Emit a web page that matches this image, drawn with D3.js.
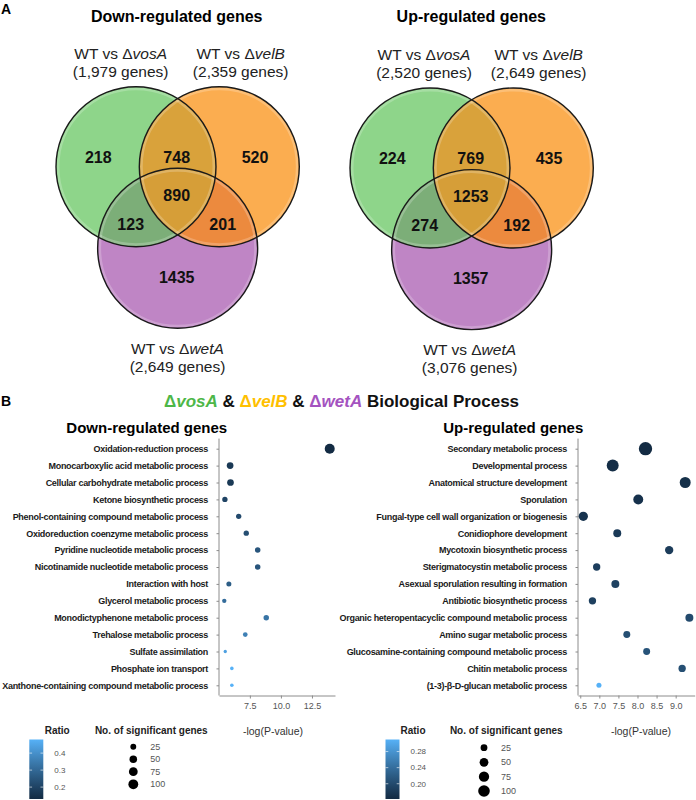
<!DOCTYPE html>
<html><head><meta charset="utf-8">
<script src="https://cdn.jsdelivr.net/npm/d3@7"></script>
<style>
body{margin:0;background:#fff}
svg{display:block}
text{font-family:"Liberation Sans",Arial,sans-serif}
</style>
</head><body>
<svg id="c" width="696" height="800"></svg>
<script>
// ---------- DATA ----------
const vennGenes = ["vosA", "velB", "wetA"];
const downVennTotals = ["1,979", "2,359", "2,649"];
const upVennTotals = ["2,520", "2,649", "3,076"];
// region order: A only, A∩B, B only, A∩B∩C, A∩C, B∩C, C only
const vennRegions = ["A", "AB", "B", "ABC", "AC", "BC", "C"];
const downVennCounts = [218, 748, 520, 890, 123, 201, 1435];
const upVennCounts = [224, 769, 435, 1253, 274, 192, 1357];

const downTerms = [
  "Oxidation-reduction process",
  "Monocarboxylic acid metabolic process",
  "Cellular carbohydrate metabolic process",
  "Ketone biosynthetic process",
  "Phenol-containing compound metabolic process",
  "Oxidoreduction coenzyme metabolic process",
  "Pyridine nucleotide metabolic process",
  "Nicotinamide nucleotide metabolic process",
  "Interaction with host",
  "Glycerol metabolic process",
  "Monodictyphenone metabolic process",
  "Trehalose metabolic process",
  "Sulfate assimilation",
  "Phosphate ion transport",
  "Xanthone-containing compound metabolic process"
];
const downLogP = [13.93, 5.91, 5.94, 5.49, 6.60, 7.21, 8.13, 8.13, 5.81, 5.44, 8.82, 7.13, 5.52, 6.05, 6.05];
const downCount = [105, 36, 36, 18, 18, 18, 20, 20, 15, 9, 20, 12, 3, 4, 4];
const downRatio = [0.13, 0.17, 0.17, 0.20, 0.22, 0.23, 0.25, 0.25, 0.27, 0.31, 0.33, 0.36, 0.44, 0.48, 0.48];
const downTicks = [7.5, 10.0, 12.5];
const downRatioTicks = [0.2, 0.3, 0.4];

const upTerms = [
  "Secondary metabolic process",
  "Developmental process",
  "Anatomical structure development",
  "Sporulation",
  "Fungal-type cell wall organization or biogenesis",
  "Conidiophore development",
  "Mycotoxin biosynthetic process",
  "Sterigmatocystin metabolic process",
  "Asexual sporulation resulting in formation",
  "Antibiotic biosynthetic process",
  "Organic heteropentacyclic compound metabolic process",
  "Amino sugar metabolic process",
  "Glucosamine-containing compound metabolic process",
  "Chitin metabolic process",
  "(1-3)-β-D-glucan metabolic process"
];
const upLogP = [8.21, 7.35, 9.25, 8.02, 6.58, 7.47, 8.83, 6.93, 7.42, 6.82, 9.36, 7.72, 8.24, 9.17, 6.99];
const upCount = [140, 108, 88, 69, 58, 39, 44, 31, 39, 31, 39, 27, 27, 31, 10];
const upRatio = [0.162, 0.165, 0.168, 0.170, 0.172, 0.180, 0.183, 0.186, 0.190, 0.188, 0.200, 0.205, 0.210, 0.205, 0.310];
const upTicks = [6.5, 7.0, 7.5, 8.0, 8.5, 9.0];
const upRatioTicks = [0.20, 0.24, 0.28];

const sizeLegendValues = [25, 50, 75, 100];

// ---------- DRAW ----------
const svg = d3.select("#c");
const defs = svg.append("defs");
const FONT = '"Liberation Sans",Arial,sans-serif';

// panel letters
svg.append("text").attr("x", 1).attr("y", 13.5).attr("font-size", 14).attr("font-weight", "bold").text("A");
svg.append("text").attr("x", 1).attr("y", 406).attr("font-size", 14).attr("font-weight", "bold").text("B");

function drawVenn(id, ox, oy, title, titleX, totals, counts, labelPos) {
  const R = 80, d = 83.3;
  const centers = [[ox, oy], [ox + d, oy], [ox + d / 2, oy + 81.6]];
  const fills = ["#8ED58A", "#FBAD50", "#BF85C5"];
  const g = svg.append("g");
  centers.forEach((c, i) => {
    defs.append("clipPath").attr("id", id + "clip" + i)
      .append("circle").attr("cx", c[0]).attr("cy", c[1]).attr("r", R);
  });
  // base circles
  [2, 0, 1].forEach(i => {
    g.append("circle").attr("cx", centers[i][0]).attr("cy", centers[i][1]).attr("r", R).attr("fill", fills[i]);
  });
  // pairwise overlaps
  const pair = (clipI, drawI, color) => {
    g.append("g").attr("clip-path", `url(#${id}clip${clipI})`)
      .append("circle").attr("cx", centers[drawI][0]).attr("cy", centers[drawI][1]).attr("r", R).attr("fill", color);
  };
  pair(0, 2, "#7CAE78");
  pair(1, 2, "#EC8A3E");
  pair(0, 1, "#D9A23B");
  g.append("g").attr("clip-path", `url(#${id}clip0)`)
    .append("g").attr("clip-path", `url(#${id}clip2)`)
    .append("circle").attr("cx", centers[1][0]).attr("cy", centers[1][1]).attr("r", R).attr("fill", "#D69E38");
  // subtle bevel highlight
  centers.forEach(c => {
    g.append("circle").attr("cx", c[0]).attr("cy", c[1]).attr("r", R - 2.2)
      .attr("fill", "none").attr("stroke", "#fff").attr("stroke-opacity", 0.22).attr("stroke-width", 2.5);
  });
  centers.forEach(c => {
    g.append("circle").attr("cx", c[0]).attr("cy", c[1]).attr("r", R)
      .attr("fill", "none").attr("stroke", "#1a1a1a").attr("stroke-width", 1.4);
  });
  // region counts
  const off = {A: [-37.7, -9.4], AB: [40.7, -9.4], B: [119, -9.4], ABC: [40.7, 28.3], AC: [-5.3, 57.3], BC: [86.7, 57.3], C: [40.7, 110.6]};
  g.selectAll("text.cnt").data(vennRegions).join("text").attr("class", "cnt")
    .attr("x", k => ox + off[k][0]).attr("y", k => oy + off[k][1])
    .attr("dy", "0.36em").attr("text-anchor", "middle")
    .attr("font-size", 16).attr("font-weight", "bold").attr("fill", "#111")
    .text((k, i) => counts[i]);
  // title
  svg.append("text").attr("x", titleX).attr("y", 22).attr("text-anchor", "middle")
    .attr("font-size", 16).attr("font-weight", "bold").text(title);
  // set labels
  vennGenes.forEach((gene, i) => {
    const p = labelPos[i];
    const t = svg.append("text").attr("x", p[0]).attr("y", p[1]).attr("text-anchor", "middle")
      .attr("font-size", 15.5).attr("fill", "#222");
    t.append("tspan").text("WT vs Δ");
    t.append("tspan").attr("font-style", "italic").text(gene);
    svg.append("text").attr("x", p[0]).attr("y", p[1] + 18.5).attr("text-anchor", "middle")
      .attr("font-size", 15.5).attr("fill", "#222").text(`(${totals[i]} genes)`);
  });
}

drawVenn("dn", 136, 166.7, "Down-regulated genes", 176.7, downVennTotals, downVennCounts,
  [[120.7, 58.8], [240.7, 58.8], [177.5, 353.8]]);
drawVenn("up", 430, 168, "Up-regulated genes", 471.3, upVennTotals, upVennCounts,
  [[424, 59.8], [538.7, 59.8], [469.7, 354.8]]);

// ---------- Panel B header ----------
const hdr = svg.append("text").attr("x", 341.5).attr("y", 406.8).attr("text-anchor", "middle")
  .attr("font-size", 17).attr("font-weight", "bold");
const hdrColors = ["#4DB748", "#FFC000", "#A453C0"];
vennGenes.forEach((gene, i) => {
  hdr.append("tspan").attr("fill", hdrColors[i]).text("Δ");
  hdr.append("tspan").attr("fill", hdrColors[i]).attr("font-style", "italic").text(gene);
  if (i < 2) hdr.append("tspan").attr("fill", "#111").text(" & ");
});
hdr.append("tspan").attr("fill", "#111").text(" Biological Process");

function dotPanel(cfg) {
  const yTop = 438.6, yBot = 695.5;
  const y = d3.scalePoint().domain(cfg.terms).range([448.7, 685.3]);
  const ext = d3.extent(cfg.logp);
  const pad = (ext[1] - ext[0]) * 0.05;
  const x = d3.scaleLinear().domain([ext[0] - pad, ext[1] + pad]).range([cfg.x0, cfg.x1]);
  const rExt = d3.extent(cfg.ratio);
  const color = d3.scaleLinear().domain(rExt).range(["#132B43", "#56B1F7"]).interpolate(d3.interpolateLab);
  const r = d3.scaleSqrt().domain([0, cfg.nMax]).range([1, cfg.rMax]);
  const axisCol = "#8c8c8c";

  // title
  svg.append("text").attr("x", cfg.titleX).attr("y", 433).attr("text-anchor", "middle")
    .attr("font-size", 15).attr("font-weight", "bold").text(cfg.title);

  // y axis with labels
  const ya = svg.append("g").attr("transform", `translate(${cfg.x0},0)`)
    .call(d3.axisLeft(y).tickSize(2.5).tickSizeOuter(0).tickPadding(8.5));
  ya.select(".domain").remove();
  ya.selectAll(".tick line").attr("stroke", axisCol);
  ya.selectAll(".tick text").attr("font-family", FONT).attr("font-size", 9).attr("font-weight", "bold")
    .attr("fill", "#1a1a1a").attr("letter-spacing", "-0.3px");
  svg.append("line").attr("x1", cfg.x0).attr("x2", cfg.x0).attr("y1", yTop).attr("y2", yBot)
    .attr("stroke", axisCol).attr("stroke-width", 1);

  // x axis
  const xa = svg.append("g").attr("transform", `translate(0,${yBot})`)
    .call(d3.axisBottom(x).tickValues(cfg.ticks).tickFormat(d3.format(".1f")).tickSize(3).tickSizeOuter(0).tickPadding(4));
  xa.select(".domain").attr("stroke", axisCol);
  xa.selectAll(".tick line").attr("stroke", axisCol);
  xa.selectAll(".tick text").attr("font-family", FONT).attr("font-size", 9).attr("fill", "#555");
  svg.append("text").attr("x", cfg.axisTitleX).attr("y", 734.5).attr("text-anchor", "middle")
    .attr("font-size", 10.5).attr("fill", "#333").text("-log(P-value)");

  // points
  const data = cfg.terms.map((t, i) => ({t, p: cfg.logp[i], n: cfg.count[i], q: cfg.ratio[i]}));
  svg.append("g").selectAll("circle").data(data).join("circle")
    .attr("cx", d => x(d.p)).attr("cy", d => y(d.t)).attr("r", d => r(d.n)).attr("fill", d => color(d.q));

  // ratio legend
  svg.append("text").attr("x", cfg.ratioTitleX).attr("y", 733.5).attr("text-anchor", "middle")
    .attr("font-size", 10).attr("font-weight", "bold").attr("fill", "#222").text("Ratio");
  const gid = cfg.id + "grad";
  const grad = defs.append("linearGradient").attr("id", gid).attr("x1", 0).attr("y1", 1).attr("x2", 0).attr("y2", 0);
  d3.range(0, 1.0001, 0.1).forEach(f => {
    grad.append("stop").attr("offset", f).attr("stop-color", color(rExt[0] + f * (rExt[1] - rExt[0])));
  });
  const cb = d3.scaleLinear().domain(rExt).range([799, 739.5]);
  svg.append("rect").attr("x", cfg.cbX).attr("y", cb(rExt[1])).attr("width", 14)
    .attr("height", cb(rExt[0]) - cb(rExt[1])).attr("fill", `url(#${gid})`);
  cfg.ratioTicks.forEach(v => {
    svg.append("line").attr("x1", cfg.cbX).attr("x2", cfg.cbX + 2.8).attr("y1", cb(v)).attr("y2", cb(v))
      .attr("stroke", "#fff").attr("stroke-opacity", 0.6);
    svg.append("line").attr("x1", cfg.cbX + 11.2).attr("x2", cfg.cbX + 14).attr("y1", cb(v)).attr("y2", cb(v))
      .attr("stroke", "#fff").attr("stroke-opacity", 0.6);
    svg.append("text").attr("x", cfg.cbX + 25).attr("y", cb(v)).attr("dy", "0.35em")
      .attr("font-size", 8).attr("fill", "#555").text(d3.format(cfg.ratioFmt)(v));
  });

  // size legend
  svg.append("text").attr("x", cfg.sizeTitleX).attr("y", 733.5).attr("text-anchor", "middle")
    .attr("font-size", 10).attr("font-weight", "bold").attr("fill", "#222").text("No. of significant genes");
  sizeLegendValues.forEach((v, i) => {
    const cy = cfg.sizeY[i];
    svg.append("circle").attr("cx", cfg.sizeCX).attr("cy", cy).attr("r", r(v)).attr("fill", "#000");
    svg.append("text").attr("x", cfg.sizeCX + 17).attr("y", cy).attr("dy", "0.35em")
      .attr("font-size", 9).attr("fill", "#555").text(v);
  });
}

dotPanel({
  id: "dn", terms: downTerms, logp: downLogP, count: downCount, ratio: downRatio,
  x0: 219, x1: 335, ticks: downTicks, nMax: 105, rMax: 5,
  title: "Down-regulated genes", titleX: 146.8, axisTitleX: 273,
  ratioTitleX: 57.2, cbX: 29.3, ratioTicks: downRatioTicks, ratioFmt: ".1f",
  sizeTitleX: 151.3, sizeCX: 133.3, sizeY: [746.7, 759.3, 771.7, 784.3]
});
dotPanel({
  id: "up", terms: upTerms, logp: upLogP, count: upCount, ratio: upRatio,
  x0: 578, x1: 694.7, ticks: upTicks, nMax: 140, rMax: 6.67,
  title: "Up-regulated genes", titleX: 513.3, axisTitleX: 641,
  ratioTitleX: 413, cbX: 385.5, ratioTicks: upRatioTicks, ratioFmt: ".2f",
  sizeTitleX: 506.3, sizeCX: 484, sizeY: [747.7, 762.3, 776.7, 791]
});
</script>
</body></html>
